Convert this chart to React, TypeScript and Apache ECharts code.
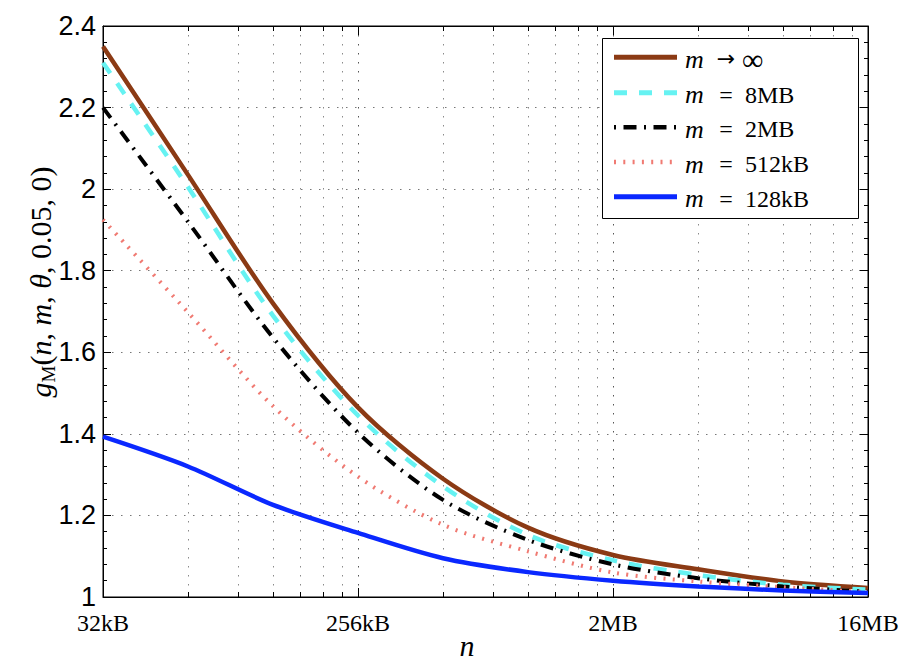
import React, { useEffect, useRef } from "react";
import * as echarts from "echarts";

// ---- data ----
const SIZES_KB = [32, 64, 128, 256, 512, 1024, 2048, 4096, 8192, 16384];
const M_INF = [2.35, 2.035, 1.72, 1.465, 1.29, 1.17, 1.103, 1.068, 1.038, 1.022];
const M_8MB = [2.31, 2.005, 1.69, 1.445, 1.271, 1.152, 1.09, 1.054, 1.03, 1.018];
const M_2MB = [2.2, 1.92, 1.636, 1.403, 1.238, 1.14, 1.08, 1.046, 1.026, 1.013];
const M_512KB = [1.925, 1.698, 1.468, 1.295, 1.177, 1.112, 1.06, 1.038, 1.024, 1.012];
const M_128KB = [1.393, 1.32, 1.226, 1.157, 1.095, 1.061, 1.04, 1.026, 1.016, 1.01];

const X_TICKS_KB = [32, 256, 2048, 16384];
const X_TICK_LABELS = ["32kB", "256kB", "2MB", "16MB"];
const MINOR_FACTORS = [2, 3, 4, 5, 6, 7];
const Y_MIN = 1;
const Y_MAX = 2.4;
const Y_STEP = 0.2;

const LEGEND_OPS = ["→", "=", "=", "=", "="];
const LEGEND_VALUES = ["∞", "8MB", "2MB", "512kB", "128kB"];

const KB = 1024;
const SERIF = '"Liberation Serif", "Times New Roman", serif';
const SANS = '"Liberation Sans", Arial, Helvetica, sans-serif';

const STYLES = [
  { color: "#8B3A14", width: 4.5, type: "solid" as any, dash: null as number[] | null, smooth: 0.3 },
  { color: "#66F2F2", width: 4.5, type: [13, 12], dash: [13, 12], smooth: 0.3 },
  { color: "#000000", width: 4, type: [13, 7.5, 2, 7.5], dash: [2, 7.5, 13, 7.5], smooth: 0.3 },
  { color: "#F07A72", width: 4, type: [2, 7.3], dash: [2, 7.3], smooth: 0.3 },
  { color: "#0A28FF", width: 4.5, type: "solid" as any, dash: null, smooth: 0.3 },
];

const SERIES_VALUES = [M_INF, M_8MB, M_2MB, M_512KB, M_128KB];

export default function App() {
  const ref = useRef<HTMLDivElement>(null);

  useEffect(() => {
    if (!ref.current) return;
    const chart = echarts.init(ref.current, null, { renderer: "svg" });

    const xMin = X_TICKS_KB[0] * KB;
    const xMax = X_TICKS_KB[X_TICKS_KB.length - 1] * KB;

    const minorPositions: number[][] = [];
    for (let i = 0; i < X_TICKS_KB.length - 1; i++) {
      for (const f of MINOR_FACTORS) minorPositions.push([X_TICKS_KB[i] * KB * f, Y_MIN]);
    }

    const xLabel = (v: number) => {
      const kb = Math.round(v / KB);
      const i = X_TICKS_KB.indexOf(kb);
      return i >= 0 ? X_TICK_LABELS[i] : "";
    };

    const lineSeries = SERIES_VALUES.map((vals, i) => ({
      type: "line",
      name: LEGEND_VALUES[i],
      data: SIZES_KB.map((s, j) => [s * KB, vals[j]]),
      symbol: "none",
      silent: true,
      smooth: STYLES[i].smooth,
      z: 5 + i,
      lineStyle: {
        color: STYLES[i].color,
        width: STYLES[i].width,
        type: STYLES[i].type,
        cap: "butt",
      },
    }));

    const minorGrid = {
      type: "custom",
      silent: true,
      z: 1,
      data: minorPositions,
      encode: { x: 0, y: 1 },
      renderItem: (params: any, api: any) => {
        const x = Math.round(api.coord([api.value(0), Y_MIN])[0]) + 0.5;
        const cs = params.coordSys;
        const top = cs.y;
        const bottom = cs.y + cs.height;
        return {
          type: "group",
          children: [
            {
              type: "line",
              shape: { x1: x, y1: top, x2: x, y2: bottom },
              style: { stroke: "#8a8a8a", lineWidth: 1, lineDash: [1.5, 7.5] },
            },
            {
              type: "line",
              shape: { x1: x, y1: bottom, x2: x, y2: bottom - 5 },
              style: { stroke: "#000", lineWidth: 1 },
            },
            {
              type: "line",
              shape: { x1: x, y1: top, x2: x, y2: top + 5 },
              style: { stroke: "#000", lineWidth: 1 },
            },
          ],
        };
      },
    };

    // legend drawn with graphic elements
    const LX = 602, LY = 38, LW = 256, LH = 180;
    const rowY = [57.3, 92.7, 127.3, 162, 196.7];
    const legendEls: any[] = [
      {
        type: "rect",
        z: 20,
        shape: { x: LX + 0.5, y: LY + 0.5, width: LW, height: LH },
        style: { fill: "#fff", stroke: "#000", lineWidth: 1 },
      },
    ];
    rowY.forEach((y, i) => {
      const st = STYLES[i];
      const isArrow = LEGEND_OPS[i] === "→";
      legendEls.push({
        type: "line",
        z: 21,
        shape: { x1: 614, y1: y, x2: 677, y2: y },
        style: {
          stroke: st.color,
          lineWidth: st.width + 0.5,
          lineDash: st.dash || undefined,
        },
      });
      legendEls.push({
        type: "text",
        z: 21,
        x: 685,
        y: y + 2,
        style: {
          text: "m",
          font: `italic 26px ${SERIF}`,
          fill: "#000",
          align: "left",
          verticalAlign: "middle",
          textAlign: "left",
          textVerticalAlign: "middle",
        },
      });
      legendEls.push({
        type: "text",
        z: 21,
        x: 726,
        y: isArrow ? y + 1 : y + 2,
        style: {
          text: LEGEND_OPS[i],
          font: isArrow ? `22px "DejaVu Sans", sans-serif` : `24px ${SERIF}`,
          fill: "#000",
          align: "center",
          verticalAlign: "middle",
          textAlign: "center",
          textVerticalAlign: "middle",
        },
      });
      legendEls.push({
        type: "text",
        z: 21,
        x: LEGEND_VALUES[i] === "∞" ? 742 : 745,
        y: y + 2,
        style: {
          text: LEGEND_VALUES[i],
          font: `${LEGEND_VALUES[i] === "∞" ? 30 : 24}px ${SERIF}`,
          fill: "#000",
          align: "left",
          verticalAlign: "middle",
          textAlign: "left",
          textVerticalAlign: "middle",
        },
      });
    });

    const yTitle = {
      type: "text",
      z: 20,
      x: 40,
      y: 282,
      rotation: Math.PI / 2,
      style: {
        text: "{i|g}{sub|M}{r|(}{i|n}{r|, }{i|m}{r|, }{i|θ}{r|, 0.05, 0)}",
        fill: "#000",
        align: "center",
        verticalAlign: "middle",
        textAlign: "center",
        textVerticalAlign: "middle",
        rich: {
          i: { fontFamily: SERIF, fontStyle: "italic", fontSize: 30, lineHeight: 36, fill: "#000" },
          r: { fontFamily: SERIF, fontSize: 30, lineHeight: 36, fill: "#000" },
          sub: { fontFamily: SERIF, fontSize: 19, lineHeight: 21, verticalAlign: "bottom", fill: "#000" },
        },
      },
    };

    const xTitle = {
      type: "text",
      z: 20,
      x: 467,
      y: 645,
      style: {
        text: "n",
        font: `italic 30px ${SERIF}`,
        fill: "#000",
        align: "center",
        verticalAlign: "middle",
        textAlign: "center",
        textVerticalAlign: "middle",
      },
    };

    const axisBase = {
      axisLine: { show: true, lineStyle: { color: "#000", width: 1 } },
    };

    chart.setOption({
      animation: false,
      backgroundColor: "#fff",
      grid: {
        left: 103,
        right: 42,
        top: 26,
        bottom: 75,
        show: true,
        borderColor: "#000",
        borderWidth: 1,
        containLabel: false,
      },
      xAxis: [
        {
          type: "log",
          logBase: 8,
          min: xMin,
          max: xMax,
          splitNumber: 3,
          position: "bottom",
          ...axisBase,
          axisTick: { show: true, inside: true, length: 9, lineStyle: { color: "#000" } },
          axisLabel: {
            show: true,
            formatter: xLabel,
            color: "#000",
            fontFamily: SERIF,
            fontSize: 24,
            lineHeight: 24,
            margin: 14,
          },
          splitLine: { show: true, lineStyle: { color: "#555", width: 1, type: [1.5, 7.5] } },
        },
        {
          type: "log",
          logBase: 8,
          min: xMin,
          max: xMax,
          splitNumber: 3,
          position: "top",
          ...axisBase,
          axisTick: { show: true, inside: true, length: 9, lineStyle: { color: "#000" } },
          axisLabel: { show: false },
          splitLine: { show: false },
        },
      ],
      yAxis: [
        {
          type: "value",
          min: Y_MIN,
          max: Y_MAX,
          interval: Y_STEP,
          position: "left",
          ...axisBase,
          axisTick: { show: true, inside: true, length: 8, lineStyle: { color: "#000" } },
          minorTick: { show: true, splitNumber: 5, length: 4, lineStyle: { color: "#000" } },
          axisLabel: {
            color: "#000",
            fontFamily: SANS,
            fontSize: 27,
            lineHeight: 21,
            margin: 7,
            formatter: (v: number) => String(Math.round(v * 10) / 10),
          },
          splitLine: { show: true, lineStyle: { color: "#777", width: 1, type: [1.5, 7.5] } },
        },
        {
          type: "value",
          min: Y_MIN,
          max: Y_MAX,
          interval: Y_STEP,
          position: "right",
          ...axisBase,
          axisTick: { show: true, inside: true, length: 8, lineStyle: { color: "#000" } },
          minorTick: { show: true, splitNumber: 5, length: 4, lineStyle: { color: "#000" } },
          axisLabel: { show: false },
          splitLine: { show: false },
        },
      ],
      series: [minorGrid, ...lineSeries],
      graphic: [...legendEls, yTitle, xTitle],
    });

    return () => chart.dispose();
  }, []);

  return (
    <div
      ref={ref}
      style={{ position: "fixed", left: 0, top: 0, width: 910, height: 672, background: "#fff" }}
    />
  );
}
